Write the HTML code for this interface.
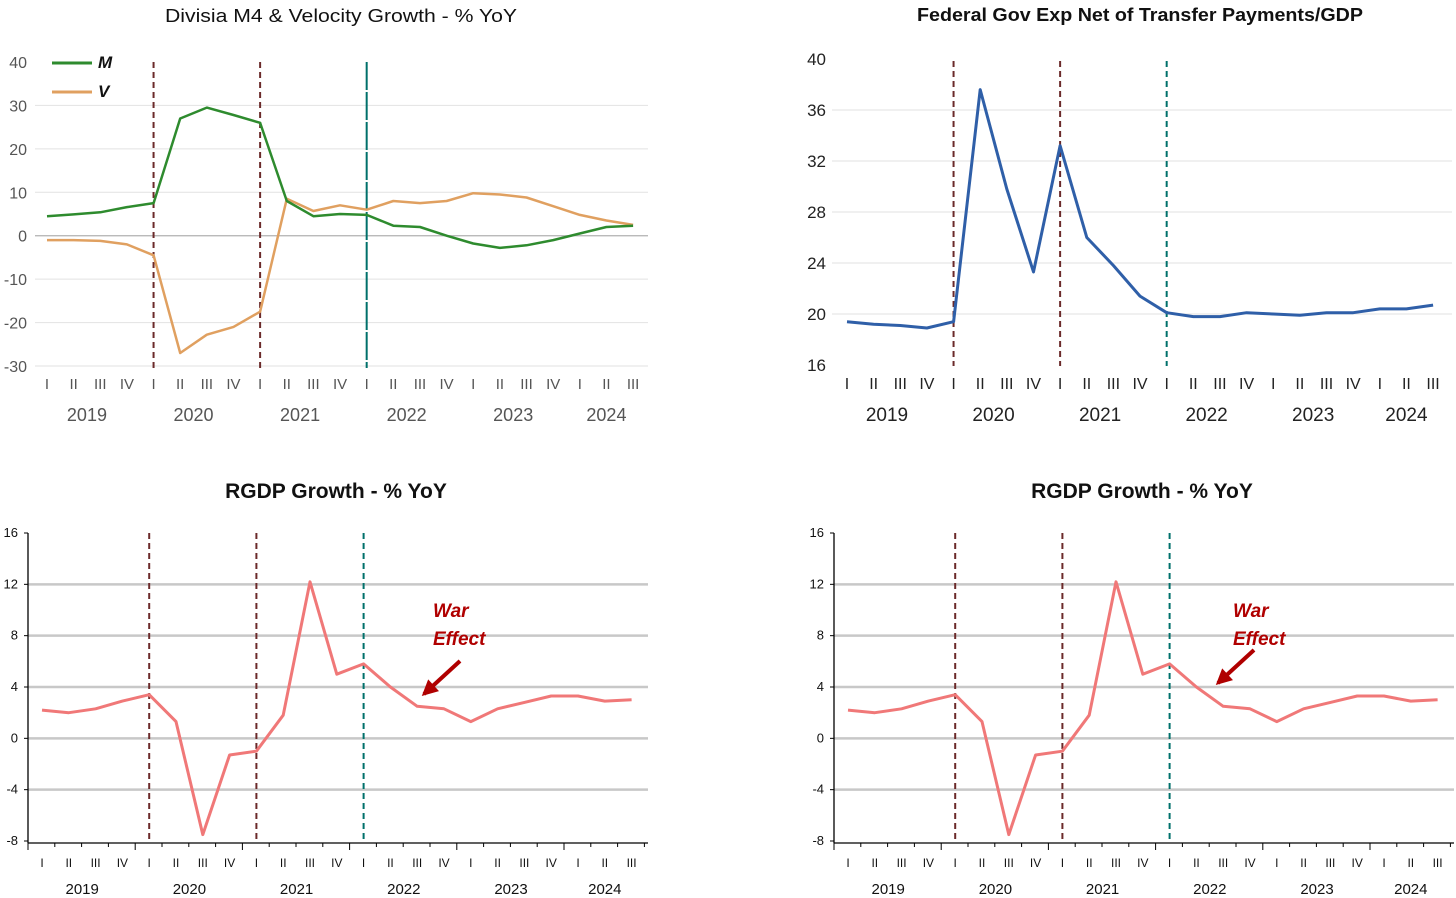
<!DOCTYPE html>
<html><head><meta charset="utf-8"><style>
html,body{margin:0;padding:0;background:#fff;}
svg{display:block;font-family:"Liberation Sans",sans-serif;}
</style></head><body>
<svg id="chart" width="1456" height="898" viewBox="0 0 1456 898" xmlns="http://www.w3.org/2000/svg"></svg>
<script>
const quarters = ["I","II","III","IV","I","II","III","IV","I","II","III","IV","I","II","III","IV","I","II","III","IV","I","II","III"];
const years = ["2019","2020","2021","2022","2023","2024"];
const mGrowth = [4.5,4.9,5.4,6.6,7.5,27,29.5,27.8,26,8,4.5,5,4.8,2.3,2,0,-1.8,-2.8,-2.2,-1,0.5,2,2.3];
const vGrowth = [-1,-1,-1.2,-2,-4.5,-27,-22.8,-21,-17.5,8.5,5.7,7,6,8,7.5,8,9.8,9.5,8.8,6.8,4.8,3.5,2.5];
const govExp = [19.4,19.2,19.1,18.9,19.4,37.6,29.8,23.3,33.2,26,23.8,21.4,20.1,19.8,19.8,20.1,20,19.9,20.1,20.1,20.4,20.4,20.7];
const rgdp = [2.2,2.0,2.3,2.9,3.4,1.3,-7.5,-1.3,-1.0,1.8,12.2,5.0,5.8,4.0,2.5,2.3,1.3,2.3,2.8,3.3,3.3,2.9,3.0];
const ticksA = [40,30,20,10,0,-10,-20,-30];
const ticksB = [40,36,32,28,24,20,16];
const ticksC = [16,12,8,4,0,-4,-8];
const eventIdx = [4,8,12];

const NS="http://www.w3.org/2000/svg";
const svg=document.getElementById('chart');
function mk(tag,attrs,parent,text){const e=document.createElementNS(NS,tag);for(const k in attrs)e.setAttribute(k,attrs[k]);if(text!==undefined)e.textContent=text;(parent||svg).appendChild(e);return e;}
function axes(x0,step,yTop,vTop,yBot,vBot){
  return {x:i=>x0+i*step, y:v=>yTop+(vTop-v)*(yBot-yTop)/(vTop-vBot)};
}
function line(g,data,ax,color,w,name){
  const d=data.map((v,i)=>(i?'L':'M')+ax.x(i).toFixed(1)+','+ax.y(v).toFixed(1)).join('');
  const p=mk('path',{d:d,fill:'none',stroke:color,'stroke-width':w,'stroke-linejoin':'round'},g);
  
  
}
function xlabels(g,ax,qy,yy,size,color,font){
  quarters.forEach((q,i)=>{const t=mk('text',{x:ax.x(i),y:qy,'text-anchor':'middle','font-size':size,fill:color,'font-family':font},g,q);
    
    });
  years.forEach((yr,k)=>{const cx=k<5?(ax.x(k*4)+ax.x(k*4+3))/2:(ax.x(20)+ax.x(22))/2;
    const t=mk('text',{x:cx,y:yy,'text-anchor':'middle','font-size':size+3,fill:color,'font-family':font},g,yr);
    
    });
}
function events(g,ax,y1,y2,tealSolid){
  eventIdx.forEach((idx,k)=>{const teal=k==2;const x=ax.x(idx);
    const l=mk('line',{x1:x,x2:x,y1:y1,y2:y2,stroke:teal?'#00706b':'#6b2a2a','stroke-width':2,'stroke-dasharray':teal&&tealSolid?'28,2':'6,4'},g);
    
    });
}

/* Chart A */
(function(){
  const g=mk('g',{});  
  const ax=axes(47,26.64,62,40,366,-30);
  const font='"Liberation Sans",sans-serif';
  const t=mk('text',{x:341,y:22,'text-anchor':'middle','font-size':18,fill:'#111',textLength:352,lengthAdjust:'spacingAndGlyphs'},g,'Divisia M4 & Velocity Growth - % YoY');
   
  ticksA.forEach(v=>{
    if(v!==40){const gl=mk('line',{x1:35,x2:648,y1:ax.y(v),y2:ax.y(v),stroke:v===0?'#b0b0b0':'#e2e2e2','stroke-width':v===0?1.2:1},g);
       }
    const lb=mk('text',{x:27,y:ax.y(v)+6,'text-anchor':'end','font-size':16,fill:'#555'},g,v);
     
  });
  events(g,ax,62,368,true);
  line(g,vGrowth,ax,'#e0a060',2.5,'v-series');
  line(g,mGrowth,ax,'#2e8b2e',2.5,'m-series');
  const l1=mk('line',{x1:52,x2:92,y1:63,y2:63,stroke:'#2e8b2e','stroke-width':3},g);  
  const l2=mk('line',{x1:52,x2:92,y1:92,y2:92,stroke:'#e0a060','stroke-width':3},g);  
  const m=mk('text',{x:98,y:68,'font-size':17,'font-weight':'bold','font-style':'italic',fill:'#111'},g,'M');  
  const v=mk('text',{x:98,y:97,'font-size':17,'font-weight':'bold','font-style':'italic',fill:'#111'},g,'V');  
  xlabels(g,ax,389,421,15,'#555',font);
})();

/* Chart B */
(function(){
  const g=mk('g',{});  
  const ax=axes(847,26.64,59,40,365,16);
  const t=mk('text',{x:1140,y:21,'text-anchor':'middle','font-size':18,'font-weight':'bold',fill:'#111',textLength:446,lengthAdjust:'spacingAndGlyphs'},g,'Federal Gov Exp Net of Transfer Payments/GDP');
   
  ticksB.forEach(v=>{
    if(v!==40&&v!==16){const gl=mk('line',{x1:832,x2:1452,y1:ax.y(v),y2:ax.y(v),stroke:'#e2e2e2','stroke-width':1},g);
       }
    const lb=mk('text',{x:826,y:ax.y(v)+6,'text-anchor':'end','font-size':17,fill:'#222'},g,v);
     
  });
  events(g,ax,61,366,false);
  line(g,govExp,ax,'#2f5fa8',3,'gov-exp-series');
  xlabels(g,ax,389,421,16,'#222','"Liberation Sans",sans-serif');
})();

/* Chart C & D */
function rgdpChart(off,name,arrow){
  const g=mk('g',{});  
  const ax=axes(42+off,26.8,533,16,841,-8);
  const t=mk('text',{x:336+off,y:498,'text-anchor':'middle','font-size':21,'font-weight':'bold',fill:'#111'},g,'RGDP Growth - % YoY');
   
  ticksC.forEach(v=>{
    if(v!==16&&v!==-8){const gl=mk('line',{x1:28+off,x2:648+off,y1:ax.y(v),y2:ax.y(v),stroke:'#c8c8c8','stroke-width':2.5},g);
       }
    const tk=mk('line',{x1:24+off,x2:28+off,y1:ax.y(v),y2:ax.y(v),stroke:'#000','stroke-width':1},g);
     
    const lb=mk('text',{x:18+off,y:ax.y(v)+4,'text-anchor':'end','font-size':13,fill:'#111'},g,v);
     
  });
  const ya=mk('line',{x1:28+off,x2:28+off,y1:533,y2:843,stroke:'#000','stroke-width':1.3},g);  
  const xa=mk('line',{x1:28+off,x2:648+off,y1:843,y2:843,stroke:'#000','stroke-width':1.3},g);  
  for(let i=0;i<=23;i++){const x=28+off+i*26.8;const tk=mk('line',{x1:x,x2:x,y1:843,y2:i%4===0?850:847,stroke:'#000','stroke-width':1},g);
     }
  events(g,ax,533,841,false);
  line(g,rgdp,ax,'#f07878',3,'rgdp-series');
  xlabels(g,ax,867,894,12,'#111','"Liberation Sans",sans-serif');
  const w=mk('text',{x:433+off+arrow[4],y:617,'font-size':19,'font-weight':'bold','font-style':'italic',fill:'#b00000'},g,'War');
   
  const e=mk('text',{x:433+off+arrow[4],y:645,'font-size':19,'font-weight':'bold','font-style':'italic',fill:'#b00000'},g,'Effect');
   
  const a=mk('line',{x1:arrow[0],y1:arrow[1],x2:arrow[2],y2:arrow[3],stroke:'#b00000','stroke-width':4},g);
   
  const dx=arrow[2]-arrow[0],dy=arrow[3]-arrow[1],L=Math.hypot(dx,dy),ux=dx/L,uy=dy/L;
  const tx=arrow[2]+ux*3,ty=arrow[3]+uy*3,bx=tx-ux*16,by=ty-uy*16;
  const h=mk('polygon',{points:`${tx},${ty} ${bx-uy*8},${by+ux*8} ${bx+uy*8},${by-ux*8}`,fill:'#b00000'},g);
   
}
rgdpChart(0,'rgdp-chart-left',[460,661,424,694,0]);
rgdpChart(806,'rgdp-chart-right',[1254,650,1218,683,-6]);
</script>
</body></html>
